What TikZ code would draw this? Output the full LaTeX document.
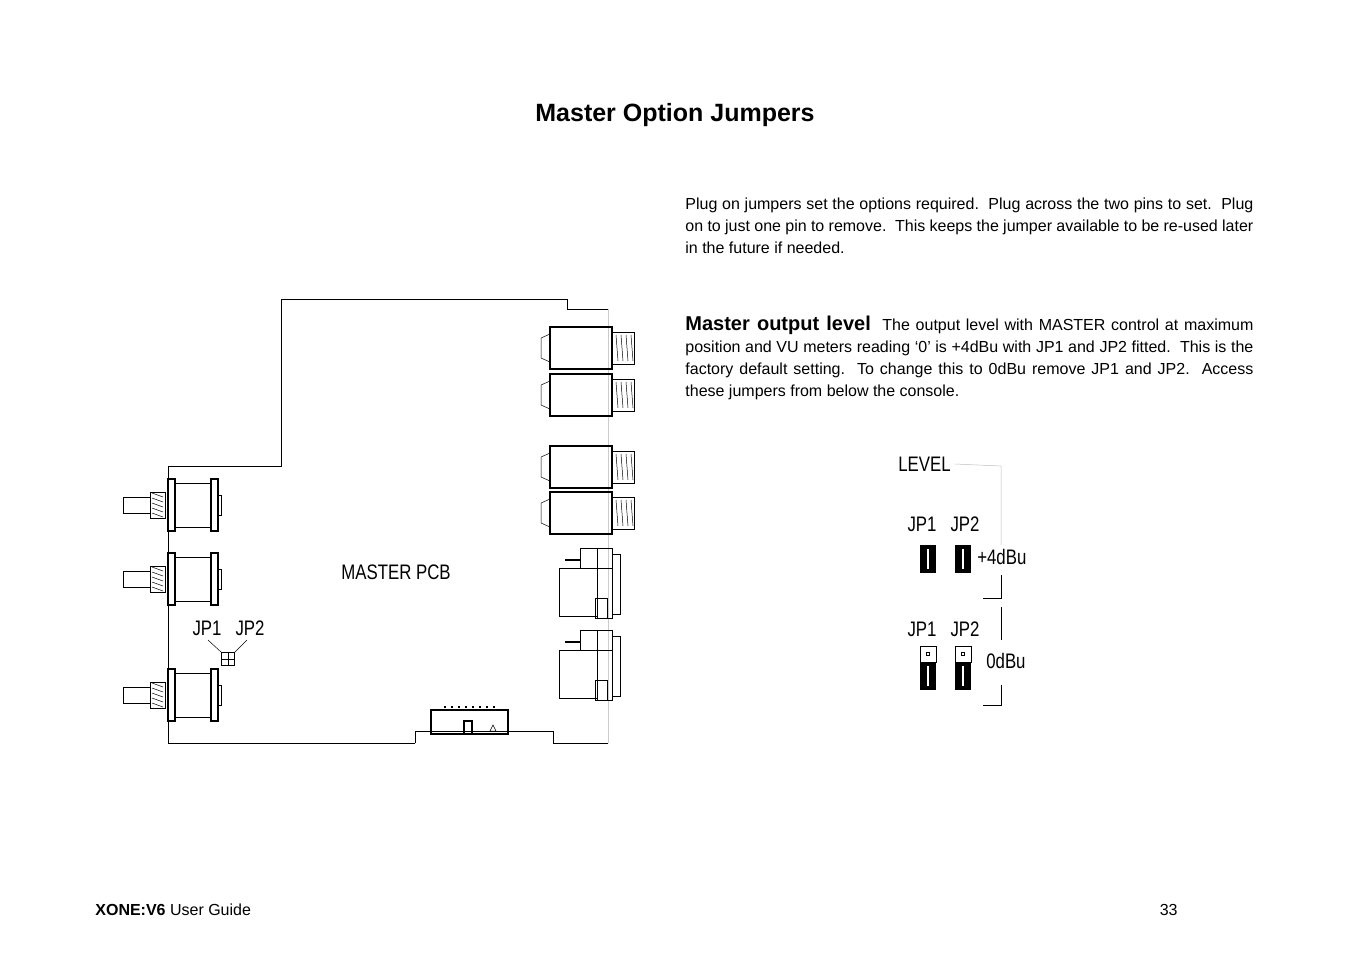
\documentclass[tikz,border=0pt]{standalone}
\usepackage{fontspec}
\setmainfont{Liberation Sans}
\usetikzlibrary{positioning}
\begin{document}
\begin{tikzpicture}[x=1pt,y=-1pt,line width=0.8pt,
                    body/.style={font=\fontsize{16}{22}\selectfont},
                    lbl/.style={font=\fontsize{21}{21}\selectfont,inner sep=0pt,xscale=0.8},
                    thin/.style={line width=0.5pt},
                    ]
    \useasboundingbox (0,0) rectangle (1351,954);
    % heading and text
    \node[font=\bfseries\fontsize{25}{25}\selectfont] (title) at (675,115) {Master Option Jumpers};
    \node[body,anchor=north west,text width=568pt,align=justify,inner sep=0pt] (intro) at (685,197)
        {Plug on jumpers set the options required.\ \ Plug across the two pins to set.\ \ Plug on to just one pin to remove.\ \ This keeps the jumper available to be re-used later in the future if needed.};
    \node[body,anchor=north west,text width=568pt,align=justify,inner sep=0pt] (level) at (685,316)
        {{\bfseries\fontsize{20}{22}\selectfont Master output level}\ \ The output level with MASTER control at maximum position and VU meters reading ‘0’ is +4dBu with JP1 and JP2 fitted.\ \ This is the factory default setting.\ \ To change this to 0dBu remove JP1 and JP2.\ \ Access these jumpers from below the console.};
    \node[body,anchor=base west,inner sep=0pt] (foot) at (95,915) {\textbf{XONE:V6} User Guide};
    \node[body,anchor=base east,inner sep=0pt] (page) at (1178,915) {33};

    % pcb outline
    \draw[thin] (415,743) -- (168,743) -- (168,466) -- (281,466) -- (281,299) -- (567,299) -- (567,309) -- (608,309);
    \draw[thin] (415,743) -- (415,731) -- (553,731) -- (553,743) -- (608,743);
    \draw[thin,gray!40] (608,309) -- (608,743);
    \node[lbl] (pcb) at (396,572) {MASTER PCB};

    % pots
    \foreach \y/\n in {505/a,579/b,695/c} {
        \draw (123,\y-8) rectangle (150,\y+8);
        \draw (150,\y-13) rectangle (165,\y+13);
        \foreach \k in {-10,-5,...,10} \draw[thin] (152,\y+\k-2) -- (163,\y+\k+2);
        \draw[line width=1.3pt] (168,\y-26) rectangle (175,\y+26);
        \draw (175,\y-22) rectangle (211,\y+22);
        \draw[line width=1.3pt] (211,\y-26) rectangle (218,\y+26);
        \draw[thin] (218,\y-10) rectangle (221,\y+10);
        \coordinate (pot\n) at (196,\y);
    }
    \node[lbl] (jp1) at (207,628) {JP1};
    \node[lbl] (jp2) at (250,628) {JP2};
    \node[draw,minimum size=13pt,inner sep=0pt] (jp) at (228,659) {};
    \draw (jp.north) -- (jp.south) (jp.west) -- (jp.east);
    \draw[thin] (208,640) -- (jp.north west);
    \draw[thin] (247,640) -- (jp.north east);

    % jacks
    \foreach \y/\n in {348/a,395/b,467/c,513/d} {
        \draw[line width=1.1pt] (550,\y-21) rectangle (612,\y+21);
        \draw[thin] (550,\y-14) -- (541,\y-10) -- (541,\y+10) -- (550,\y+14);
        \draw (612,\y-16) rectangle (634,\y+16);
        \foreach \k in {616,621,...,631} \draw[thin] (\k,\y-13) -- (\k+2,\y+13);
        \coordinate (jack\n) at (580,\y);
    }
    % xlr
    \foreach \y/\n in {548/a,630/b} {
        \draw (559,\y+20) rectangle (597,\y+68);
        \draw (580,\y) rectangle (612,\y+20);
        \draw (597,\y) -- (597,\y+20);
        \draw (597,\y+20) rectangle (612,\y+70);
        \draw (612,\y+6) rectangle (620,\y+66);
        \draw[line width=1.5pt] (565,\y+12) -- (580,\y+12);
        \draw[thin] (595,\y+50) rectangle (607,\y+70);
        \coordinate (xlr\n) at (585,\y+40);
    }
    % header
    \draw[line width=1.2pt] (431,710) rectangle (508,734);
    \foreach \x in {444,451,...,493} \fill (\x,706) rectangle (\x+2,708);
    \draw[line width=1.2pt] (464,734) -- (464,721) -- (472,721) -- (472,734);
    \draw[thin] (490,731) -- (493,725) -- (496,731) -- cycle;

    % level jumpers
    \node[lbl,anchor=west] (levelhd) at (898,464) {LEVEL};
    \draw[thin,gray!50] (levelhd.east) ++(4,0) -- (1001,466) -- (1001,545);
    \draw[thin] (1001,575) -- (1001,598) -- (983,598);
    \draw[thin] (1001,607) -- (1001,640);
    \draw[thin] (1001,685) -- (1001,705) -- (983,705);
    \node[lbl] (ajp1) at (922,524) {JP1};
    \node[lbl] (ajp2) at (965,524) {JP2};
    \node[lbl] (bjp1) at (922,629) {JP1};
    \node[lbl] (bjp2) at (965,629) {JP2};
    \node[lbl,anchor=west] (plus) at (977,557) {+4dBu};
    \node[lbl,anchor=west] (zero) at (986,661) {0dBu};
    \foreach \x/\n in {928/a,963/b} {
        \fill (\x-8,545) rectangle (\x+8,573);
        \draw[white,line width=1.5pt] (\x,549) -- (\x,569);
        \node[draw,fill=white,minimum width=16pt,minimum height=16pt,inner sep=0pt] (off\n) at (\x,654) {};
        \draw[line width=0.5pt] (\x-1.5,652.5) rectangle (\x+1.5,655.5);
        \fill (\x-8,662) rectangle (\x+8,690);
        \draw[white,line width=1.5pt] (\x,666) -- (\x,686);
    }
\end{tikzpicture}
\end{document}
